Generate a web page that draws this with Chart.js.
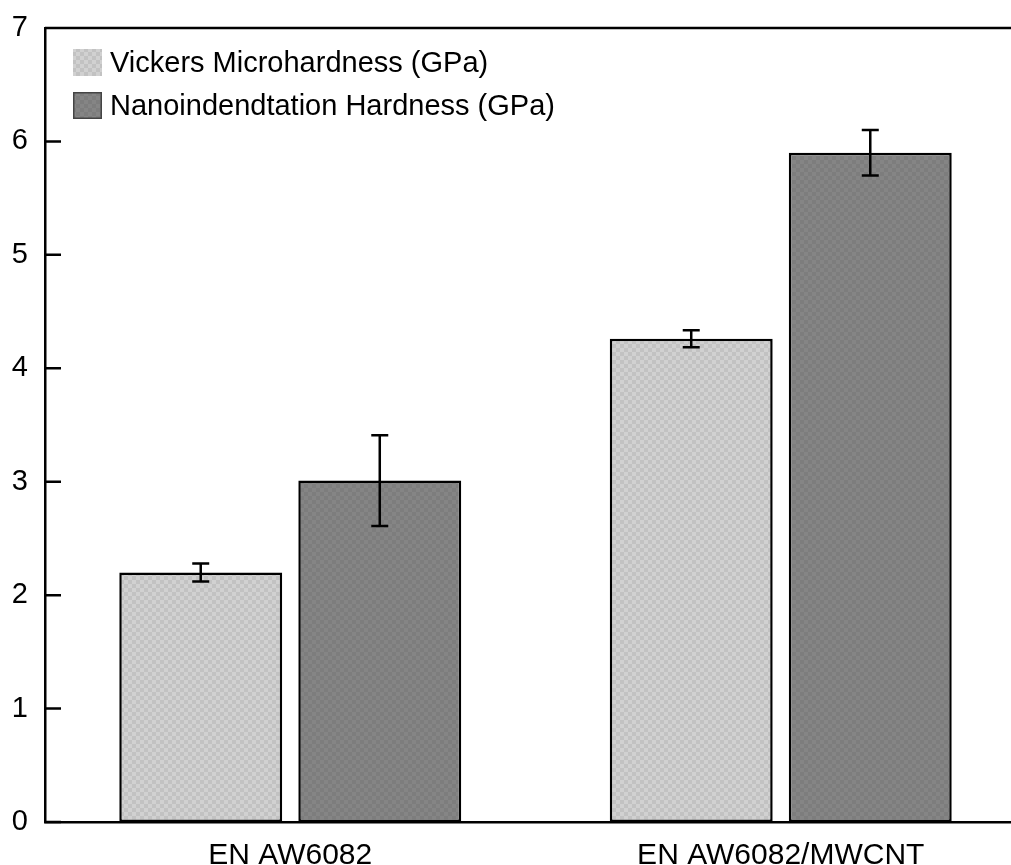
<!DOCTYPE html>
<html>
<head>
<meta charset="utf-8">
<script src="https://cdn.jsdelivr.net/npm/chart.js@4"></script>
<style>
    html, body { margin: 0; padding: 0; overflow: hidden; background: #fff; }
    #wrap { width: 1026px; height: 865px; position: relative; }
</style>
</head>
<body>
<div id="wrap"><canvas id="hardness-chart"></canvas></div>
<script>
const categories = ["EN AW6082", "EN AW6082/MWCNT"];
const seriesLabels = ["Vickers Microhardness (GPa)", "Nanoindendtation Hardness (GPa)"];
const vickers = [2.20, 4.26];
const vickersErr = [0.08, 0.075];
const nano = [3.01, 5.90];
const nanoErr = [0.40, 0.20];
const yTicks = [0, 1, 2, 3, 4, 5, 6, 7];

const FONT = "'Liberation Sans', Arial, sans-serif";

function makePattern(c1, c2) {
    const tile = document.createElement("canvas");
    tile.width = 8;
    tile.height = 8;
    const t = tile.getContext("2d");
    t.fillStyle = c1;
    t.fillRect(0, 0, 8, 8);
    t.fillStyle = c2;
    t.fillRect(0, 0, 4, 4);
    t.fillRect(4, 4, 4, 4);
    return t.createPattern(tile, "repeat");
}

const lightFill = makePattern("#c2c2c2", "#d1d1d1");
const darkFill = makePattern("#7d7d7d", "#858585");

// error bars, inward y ticks, top frame line and the legend box
const extras = {
    id: "extras",
    afterDatasetsDraw(chart) {
        const ctx = chart.ctx;
        const y = chart.scales.y;
        const errs = [vickersErr, nanoErr];
        ctx.save();
        ctx.strokeStyle = "#000";
        ctx.lineWidth = 2.5;
        chart.data.datasets.forEach((ds, i) => {
            chart.getDatasetMeta(i).data.forEach((bar, j) => {
                const v = ds.data[j];
                const hi = y.getPixelForValue(v + errs[i][j]);
                const lo = y.getPixelForValue(v - errs[i][j]);
                ctx.beginPath();
                ctx.moveTo(bar.x, hi);
                ctx.lineTo(bar.x, lo);
                ctx.moveTo(bar.x - 8.5, hi);
                ctx.lineTo(bar.x + 8.5, hi);
                ctx.moveTo(bar.x - 8.5, lo);
                ctx.lineTo(bar.x + 8.5, lo);
                ctx.stroke();
            });
        });
        ctx.restore();
    },
    afterDraw(chart) {
        const ctx = chart.ctx;
        const area = chart.chartArea;
        const y = chart.scales.y;
        ctx.save();
        ctx.strokeStyle = "#000";
        ctx.lineWidth = 2.5;
        ctx.beginPath();
        ctx.moveTo(area.left, area.top);
        ctx.lineTo(area.right, area.top);
        yTicks.forEach(t => {
            const py = y.getPixelForValue(t);
            ctx.moveTo(area.left, py);
            ctx.lineTo(area.left + 16, py);
        });
        ctx.stroke();

        // legend
        const fills = [lightFill, darkFill];
        ctx.font = "29px " + FONT;
        ctx.textBaseline = "middle";
        seriesLabels.forEach((lab, i) => {
            const top = 49 + i * 43;
            ctx.fillStyle = fills[i];
            ctx.fillRect(73, top, 29, 27);
            if (i === 1) {
                ctx.lineWidth = 1.5;
                ctx.strokeStyle = "#444";
                ctx.strokeRect(73.75, top + 0.75, 27.5, 25.5);
            }
            ctx.fillStyle = "#000";
            ctx.fillText(lab, 110, top + 15);
        });
        ctx.restore();
    }
};

const ctx = document.getElementById("hardness-chart").getContext("2d");
new Chart(ctx, {
    type: "bar",
    data: {
        labels: categories,
        datasets: [{
            label: seriesLabels[0],
            data: vickers,
            backgroundColor: lightFill,
            borderColor: "#000",
            borderWidth: 2.5,
            borderSkipped: false
        }, {
            label: seriesLabels[1],
            data: nano,
            backgroundColor: darkFill,
            borderColor: "#000",
            borderWidth: 2.5,
            borderSkipped: false
        }]
    },
    options: {
        responsive: true,
        maintainAspectRatio: false,
        animation: false,
        layout: { padding: { top: 28, right: 0, left: 0, bottom: 0 } },
        plugins: {
            legend: { display: false },
            tooltip: { enabled: false }
        },
        datasets: {
            bar: { categoryPercentage: 0.73, barPercentage: 0.91 }
        },
        scales: {
            x: {
                grid: { display: false },
                border: { color: "#000", width: 2.5 },
                ticks: { color: "#000", font: { family: FONT, size: 30 }, padding: 8 },
                afterFit(scale) { scale.height = 43; }
            },
            y: {
                min: 0,
                max: 7,
                grid: { display: false },
                border: { color: "#000", width: 2.5 },
                ticks: {
                    stepSize: 1,
                    color: "#000",
                    font: { family: FONT, size: 29 },
                    padding: 9
                },
                afterFit(scale) { scale.width = 45; }
            }
        }
    },
    plugins: [extras]
});
</script>
</body>
</html>
